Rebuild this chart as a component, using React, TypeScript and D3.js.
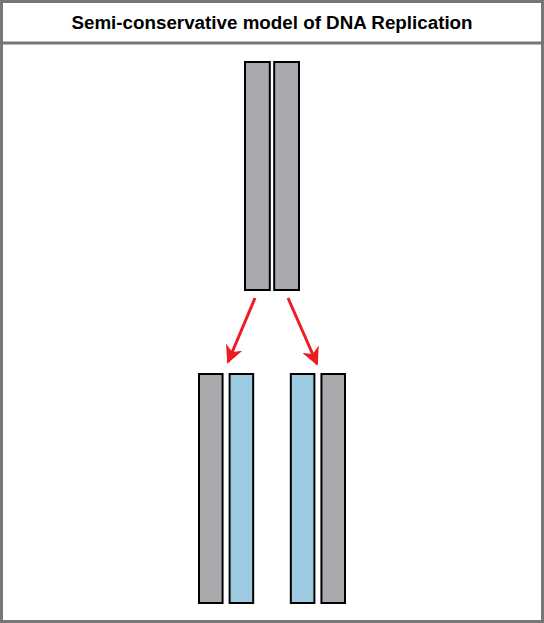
import { useEffect, useRef } from 'react'
import * as d3 from 'd3'

const W = 544
const H = 623
const title = 'Semi-conservative model of DNA Replication'

// strands by column; 'gap' leaves an empty column
const parentStrands = ['old', 'old']
const childStrands = ['old', 'new', 'gap', 'new', 'old']
const colors = { old: '#a7a9ac', new: '#9ecae1' }

const App = () => {
	const svgRef = useRef(null)

	useEffect(() => {
		const svg = d3.select(svgRef.current)
		svg.selectAll('*').remove()

		// frame
		svg.append('rect').attr('x', 1.5).attr('y', 1.5).attr('width', W - 3).attr('height', H - 3)
			.attr('fill', '#fff').attr('stroke', '#77777a').attr('stroke-width', 3)
		svg.append('line').attr('x1', 0).attr('x2', W).attr('y1', 43).attr('y2', 43)
			.attr('stroke', '#77777a').attr('stroke-width', 3)
		svg.append('text').attr('x', W / 2).attr('y', 29).attr('text-anchor', 'middle')
			.style('font-family', 'Liberation Sans, Arial, sans-serif').style('font-weight', 'bold')
			.style('font-size', '18.8px').text(title)

		// parent
		const xp = d3.scaleBand().domain(d3.range(parentStrands.length)).range([245, 299]).paddingInner(0.15)
		svg.selectAll('.p').data(parentStrands).enter().append('rect')
			.attr('x', (_, i) => xp(i)).attr('y', 62).attr('width', xp.bandwidth()).attr('height', 228)
			.attr('fill', (d) => colors[d]).attr('stroke', '#000').attr('stroke-width', 2)

		// children
		const xc = d3.scaleBand().domain(d3.range(childStrands.length)).range([199, 345]).paddingInner(0.23)
		const kids = childStrands.map((d, i) => ({ d, i })).filter((k) => k.d !== 'gap')
		svg.selectAll('.c').data(kids).enter().append('rect')
			.attr('x', (k) => xc(k.i)).attr('y', 374)
			.attr('width', xc.bandwidth()).attr('height', 229)
			.attr('fill', (k) => colors[k.d]).attr('stroke', '#000').attr('stroke-width', 2)

		// arrows
		const defs = svg.append('defs')
		defs.append('marker').attr('id', 'ah').attr('viewBox', '0 0 10 10').attr('refX', 9).attr('refY', 5)
			.attr('markerWidth', 6).attr('markerHeight', 6).attr('markerUnits', 'strokeWidth').attr('orient', 'auto')
			.append('path').attr('d', 'M0,0 L10,5 L0,10 L3,5 Z').attr('fill', '#ed1c24')
		const arrows = [[255, 298, 228, 362], [288, 298, 317, 364]]
		svg.selectAll('.a').data(arrows).enter().append('line')
			.attr('x1', (d) => d[0]).attr('y1', (d) => d[1]).attr('x2', (d) => d[2]).attr('y2', (d) => d[3])
			.attr('stroke', '#ed1c24').attr('stroke-width', 3).attr('marker-end', 'url(#ah)')
	}, [])

	return <svg ref={svgRef} width={W} height={H} style={{ position: 'absolute', left: 0, top: 0 }}></svg>
}

export default App
